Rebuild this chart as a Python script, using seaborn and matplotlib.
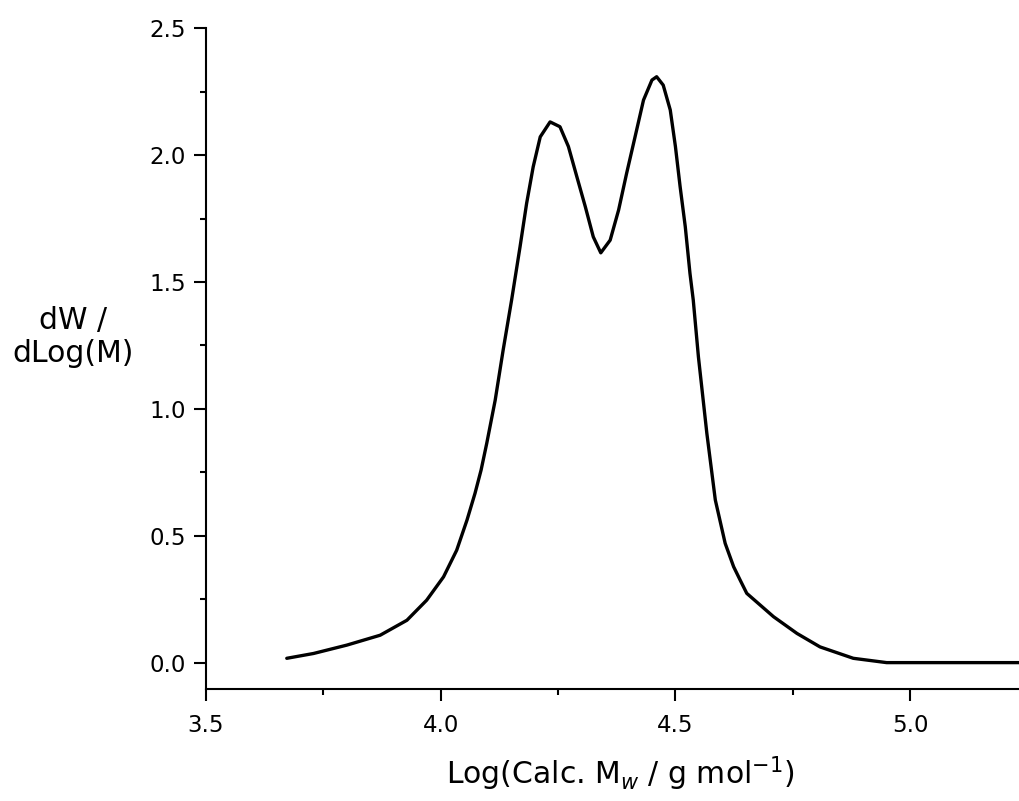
import matplotlib
matplotlib.use("Agg")
import matplotlib.pyplot as plt
import seaborn as sns
import pandas as pd
from matplotlib.ticker import MultipleLocator, FormatStrFormatter

log_m = [3.672, 3.729, 3.800, 3.871, 3.928, 3.970, 4.006, 4.034, 4.056, 4.073,
         4.086, 4.098, 4.116, 4.133, 4.151, 4.169, 4.183, 4.197, 4.212, 4.233,
         4.254, 4.272, 4.290, 4.308, 4.325, 4.341, 4.361, 4.379, 4.396, 4.414,
         4.432, 4.450, 4.460, 4.474, 4.489, 4.500, 4.510, 4.521, 4.531, 4.538,
         4.549, 4.567, 4.585, 4.606, 4.624, 4.638, 4.652, 4.709, 4.759, 4.808,
         4.879, 4.950, 5.006, 5.232]
dw_dlogm = [0.017, 0.036, 0.069, 0.108, 0.167, 0.246, 0.338, 0.443, 0.562, 0.667,
            0.759, 0.864, 1.034, 1.232, 1.429, 1.639, 1.810, 1.954, 2.072, 2.131,
            2.112, 2.034, 1.915, 1.797, 1.678, 1.615, 1.665, 1.784, 1.928, 2.072,
            2.217, 2.296, 2.309, 2.276, 2.178, 2.034, 1.876, 1.718, 1.534, 1.429,
            1.205, 0.903, 0.641, 0.470, 0.378, 0.325, 0.273, 0.181, 0.115, 0.062,
            0.017, 0.000, 0.000, 0.000]

df = pd.DataFrame({"x": log_m, "y": dw_dlogm})

sns.set_style("ticks")
plt.rcParams['font.family'] = ['DejaVu Sans']
plt.rcParams['mathtext.fontset'] = 'dejavusans'
plt.rcParams['xtick.labelsize'] = 16.5
plt.rcParams['ytick.labelsize'] = 16.5

fig = plt.figure(figsize=(10.19, 8.01), dpi=100)
ax = fig.add_axes([0.2022, 0.1395, 0.7978, 0.8252])

sns.lineplot(data=df, x="x", y="y", ax=ax, color="black", linewidth=2.4, sort=False)

ax.set_xlim(3.5, 5.232)
ax.set_ylim(-0.105, 2.5)
ax.xaxis.set_major_locator(MultipleLocator(0.5))
ax.xaxis.set_minor_locator(MultipleLocator(0.25))
ax.yaxis.set_major_locator(MultipleLocator(0.5))
ax.yaxis.set_minor_locator(MultipleLocator(0.25))
ax.xaxis.set_major_formatter(FormatStrFormatter('%.1f'))
ax.yaxis.set_major_formatter(FormatStrFormatter('%.1f'))

for side in ["top", "right"]:
    ax.spines[side].set_visible(False)
for side in ["left", "bottom"]:
    ax.spines[side].set_linewidth(1.5)
    ax.spines[side].set_color("black")

ax.tick_params(axis="x", which="major", length=8.5, width=1.5, labelsize=16.5,
               colors="black", direction="out", pad=9)
ax.tick_params(axis="y", which="major", length=8.5, width=1.5, labelsize=16.5,
               colors="black", direction="out", pad=6)
ax.tick_params(which="minor", length=4.5, width=1.5, colors="black", direction="out")

ax.set_xlabel(r"Log(Calc. M$_{w}$ / g mol$^{-1}$)", fontsize=21.5, color="black")
ax.set_ylabel("dW /\ndLog(M)", fontsize=21.5, rotation=0, ha="center", va="center",
              color="black", multialignment="center")
ax.xaxis.set_label_coords(0.51, -0.098)
ax.yaxis.set_label_coords(-0.163, 0.533)

fig.savefig("out.png", dpi=100, facecolor="white")
